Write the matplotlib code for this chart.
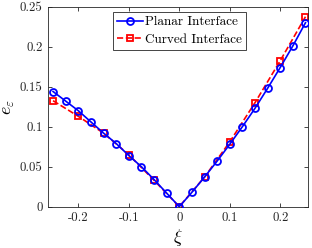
import matplotlib
matplotlib.use("Agg")
import matplotlib.pyplot as plt
import numpy as np

plt.rcParams['font.family'] = ['cmr10', 'DejaVu Serif']
plt.rcParams['mathtext.fontset'] = 'cm'
plt.rcParams['axes.unicode_minus'] = False
plt.rcParams['axes.formatter.use_mathtext'] = False

xi_planar = [-0.25, -0.225, -0.2, -0.175, -0.15, -0.125, -0.1, -0.075, -0.05, -0.025, 0.0,
             0.025, 0.05, 0.075, 0.1, 0.125, 0.15, 0.175, 0.2, 0.225, 0.25]
e_planar = [0.144, 0.132, 0.120, 0.106, 0.092, 0.079, 0.064, 0.050, 0.034, 0.017, 0.0,
            0.018, 0.037, 0.057, 0.078, 0.100, 0.123, 0.148, 0.174, 0.201, 0.230]
xi_curved = [-0.25, -0.2, -0.15, -0.1, -0.05, 0.0, 0.05, 0.1, 0.15, 0.2, 0.25]
e_curved = [0.1325, 0.113, 0.092, 0.065, 0.033, 0.0, 0.037, 0.081, 0.130, 0.1825, 0.2375]

xticks = [-0.2, -0.1, 0, 0.1, 0.2]
xticklabels = ['-0.2', '-0.1', '0', '0.1', '0.2']
yticks = [0, 0.05, 0.1, 0.15, 0.2, 0.25]
yticklabels = ['0', '0.05', '0.1', '0.15', '0.2', '0.25']

fig = plt.figure(figsize=(3.12, 2.48), dpi=100)
ax = fig.add_axes([48/312, 1-206.7/248, (308-48)/312, (206.7-6.7)/248])

ax.plot(xi_planar, e_planar, '-o', color='#0000ff', lw=1.2, ms=5, mfc='none', mew=1.3,
        label='Planar Interface', zorder=3)
ax.plot(xi_curved, e_curved, '--s', color='#ff0000', lw=1.2, ms=5, mfc='none', mew=1.3,
        label='Curved Interface', zorder=2)

ax.set_xlim(-0.26, 0.255)
ax.set_ylim(0, 0.25)
ax.set_xticks(xticks)
ax.set_xticklabels(xticklabels)
ax.set_yticks(yticks)
ax.set_yticklabels(yticklabels)
ax.tick_params(direction='in', top=True, right=True, labelsize=9.3, length=3, width=0.6,
               color='#262626', labelcolor='#262626', pad=4)
for s in ax.spines.values():
    s.set_linewidth(0.6)
    s.set_color('#262626')

ax.set_xlabel(r'$\xi$', fontsize=13, labelpad=2)
ax.set_ylabel(r'$e_\varepsilon$', fontsize=13, labelpad=2)

leg = ax.legend(loc='upper left', bbox_to_anchor=((112.7-48)/260, (206.7-12.3)/200), fontsize=9.5,
                frameon=True, fancybox=False, edgecolor='#262626', framealpha=1, handlelength=2.0,
                borderpad=0.3, labelspacing=0.4, handletextpad=0.15, borderaxespad=0)
leg.get_frame().set_linewidth(0.6)

fig.savefig('out.png', dpi=100)
